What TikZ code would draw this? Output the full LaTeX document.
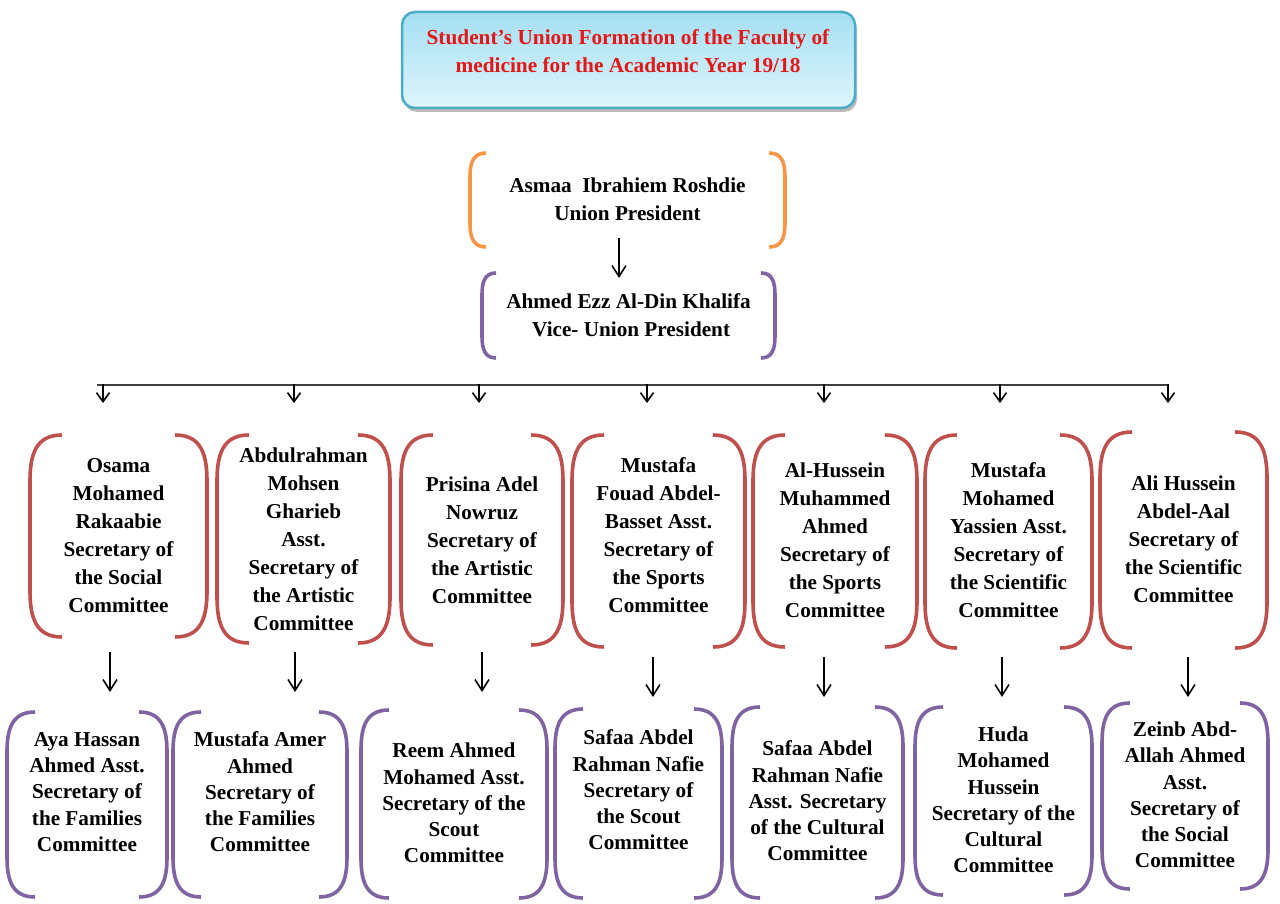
\documentclass[tikz,border=0pt]{standalone}
\usepackage{fontspec}
\setmainfont{Liberation Serif}
\usetikzlibrary{arrows.meta,shadows,fit,calc}
\definecolor{brkred}{RGB}{192,80,77}
\definecolor{brkpur}{RGB}{128,100,162}
\definecolor{brkora}{RGB}{247,150,70}
\definecolor{ttlborder}{RGB}{75,172,198}
\definecolor{ttltop}{RGB}{165,223,242}
\definecolor{ttlbot}{RGB}{222,245,252}
\definecolor{ttlred}{RGB}{228,22,22}
\newcommand\brk[4]{% name, colour, stub width, curve height
  \draw[brkline,#2] let \p1=(#1.north west), \p2=(#1.south east) in
    (\x1+#3,\y1) .. controls (\x1+0.2*#3,\y1) and (\x1,\y1-0.4*#4) .. (\x1,\y1-#4)
    -- (\x1,\y2+#4) .. controls (\x1,\y2+0.4*#4) and (\x1+0.2*#3,\y2) .. (\x1+#3,\y2)
    (\x2-#3,\y1) .. controls (\x2-0.2*#3,\y1) and (\x2,\y1-0.4*#4) .. (\x2,\y1-#4)
    -- (\x2,\y2+#4) .. controls (\x2,\y2+0.4*#4) and (\x2-0.2*#3,\y2) .. (\x2-#3,\y2);
}
% name, x1, y1, x2, y2, {colour}{w}{h}, text y, text
\newcommand\cbox[8]{%
  \node[frame, fit={(#2,#3) (#4,#5)}] (#1) {};
  \node[txt] (#1t) at ({(#2+#4)/2},#7) {#8};
  \brk{#1}#6
}
\begin{document}
\begin{tikzpicture}[x=1pt,y=-1pt,
  frame/.style={inner sep=0pt, outer sep=0pt},
  brkline/.style={line width=3.6pt},
  txt/.style={align=center, inner sep=0pt, font=\fontsize{21.2}{28}\selectfont\bfseries},
  titlebox/.style={inner sep=0pt, draw=ttlborder, line width=2.5pt, rounded corners=13pt,
    top color=ttltop, bottom color=ttlbot,
    drop shadow={shadow xshift=2pt, shadow yshift=-4pt, opacity=0.45, fill=black!60}},
  ttltxt/.style={align=center, inner sep=0pt, text=ttlred, font=\fontsize{21.3}{27.5}\selectfont\bfseries},
  hline/.style={line width=1.2pt, draw=black!75},
  arr/.style={line width=1.6pt, -{Straight Barb[length=11pt,width=14pt]}},
  arrs/.style={line width=1.6pt, -{Straight Barb[length=9pt,width=13pt]}}
]
\fill[white] (0,0) rectangle (1280,904);
\useasboundingbox (0,0) rectangle (1280,904);

% title
\node[titlebox, fit={(402,12) (855,108)}] (title) {};
\node[ttltxt] (titletext) at (628,51) {Student’s Union Formation of the Faculty of\\medicine for the Academic Year 19/18};

% president and vice
\cbox{pres}{470}{153}{785}{247}{{brkora}{16pt}{24pt}}{199.5}{Asmaa~ Ibrahiem Roshdie\\Union President}
\cbox{vice}{482}{273}{775}{358}{{brkpur}{14pt}{22pt}}{315}{Ahmed Ezz Al-Din Khalifa\\\ Vice- Union President}

\coordinate (pa) at (619,238);
\coordinate (pb) at (619,278);
\draw[arr] (pa) -- (pb);

% horizontal distribution line
\coordinate (hl) at (97,385);
\coordinate (hr) at (1168,385);
\draw[hline] (hl) -- (hr);
\foreach \i/\x in {1/103,2/294,3/479,4/647,5/824,6/1000,7/1168}{
  \coordinate (da\i) at (\x,384);
  \coordinate (db\i) at (\x,403);
  \draw[arrs] (da\i) -- (db\i);
}

% row of secretaries
\cbox{s1}{30}{435}{207}{637}{{brkred}{32pt}{46pt}}{536}{Osama\\Mohamed\\Rakaabie\\Secretary of\\the Social\\Committee}
\cbox{s2}{217}{435}{390}{643}{{brkred}{32pt}{46pt}}{539}{Abdulrahman\\Mohsen\\Gharieb\\Asst.\\Secretary of\\the Artistic\\Committee}
\cbox{s3}{401}{435}{563}{645}{{brkred}{32pt}{46pt}}{540}{Prisina Adel\\Nowruz\\Secretary of\\the Artistic\\Committee}
\cbox{s4}{572}{435}{745}{647}{{brkred}{32pt}{46pt}}{535}{Mustafa\\Fouad Abdel-\\Basset Asst.\\Secretary of\\the Sports\\Committee}
\cbox{s5}{753}{435}{917}{647}{{brkred}{32pt}{46pt}}{540}{Al-Hussein\\Muhammed\\Ahmed\\Secretary of\\the Sports\\Committee}
\cbox{s6}{925}{435}{1092}{648}{{brkred}{32pt}{46pt}}{540}{Mustafa\\Mohamed\\Yassien Asst.\\Secretary of\\the Scientific\\Committee}
\cbox{s7}{1100}{432}{1267}{648}{{brkred}{32pt}{46pt}}{539}{Ali Hussein\\Abdel-Aal\\Secretary of\\the Scientific\\Committee}

% arrows to assistants
\foreach \i/\x/\ya/\yb in {1/110/652/692,2/295/652/692,3/482/652/692,4/653/657/697,5/824/657/697,6/1002/657/697,7/1188/657/697}{
  \coordinate (ea\i) at (\x,\ya);
  \coordinate (eb\i) at (\x,\yb);
  \draw[arr] (ea\i) -- (eb\i);
}

% row of assistants
\tikzset{txt/.style={align=center, inner sep=0pt, font=\fontsize{21.2}{26.2}\selectfont\bfseries}}
\cbox{t1}{7}{712}{167}{897}{{brkpur}{28pt}{40pt}}{792}{Aya Hassan\\Ahmed Asst.\\Secretary of\\the Families\\Committee}
\cbox{t2}{173}{712}{347}{897}{{brkpur}{28pt}{40pt}}{792}{Mustafa Amer\\Ahmed\\Secretary of\\the Families\\Committee}
\cbox{t3}{361}{710}{547}{898}{{brkpur}{28pt}{40pt}}{803}{Reem Ahmed\\Mohamed Asst.\\Secretary of the\\Scout\\Committee}
\cbox{t4}{555}{709}{722}{898}{{brkpur}{28pt}{40pt}}{790}{Safaa Abdel\\Rahman Nafie\\Secretary of\\the Scout\\Committee}
\cbox{t5}{732}{707}{903}{898}{{brkpur}{28pt}{40pt}}{801}{Safaa Abdel\\Rahman Nafie\\Asst. Secretary\\of the Cultural\\Committee}
\cbox{t6}{915}{707}{1092}{895}{{brkpur}{28pt}{40pt}}{800}{Huda\\Mohamed\\Hussein\\Secretary of the\\Cultural\\Committee}
\cbox{t7}{1102}{703}{1268}{889}{{brkpur}{28pt}{40pt}}{795}{Zeinb Abd-\\Allah Ahmed\\Asst.\\Secretary of\\the Social\\Committee}
\end{tikzpicture}
\end{document}
